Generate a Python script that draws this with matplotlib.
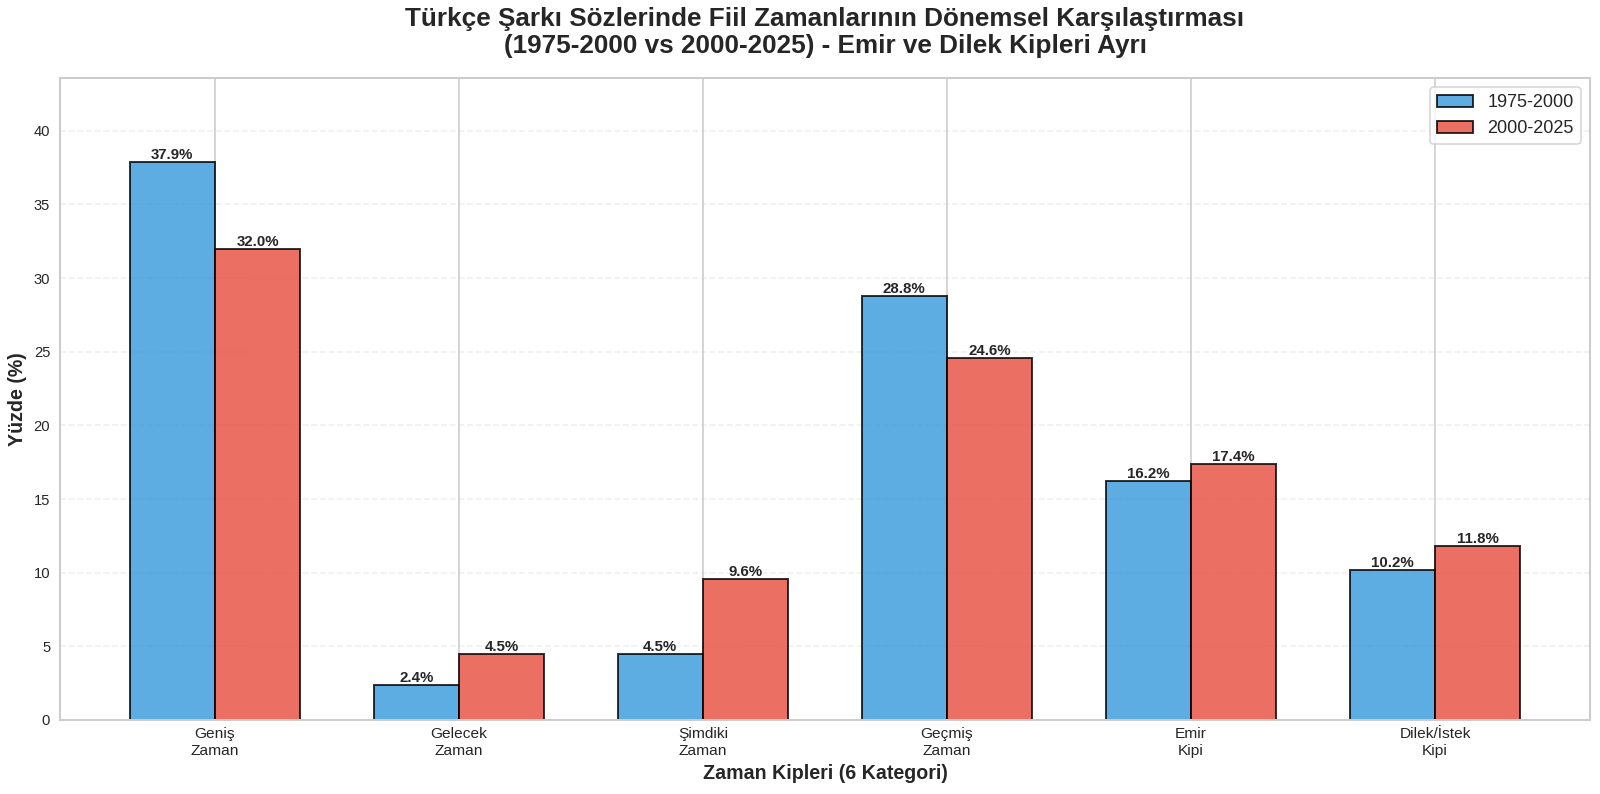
import matplotlib
matplotlib.use("Agg")
import matplotlib.pyplot as plt
import numpy as np
import seaborn as sns

sns.set_theme(style="whitegrid")
plt.rcParams['font.family'] = ['Liberation Sans', 'DejaVu Sans']

categories = ["Geniş\nZaman", "Gelecek\nZaman", "Şimdiki\nZaman", "Geçmiş\nZaman", "Emir\nKipi", "Dilek/İstek\nKipi"]
period1 = [37.9, 2.4, 4.5, 28.8, 16.2, 10.2]
period2 = [32.0, 4.5, 9.6, 24.6, 17.4, 11.8]
labels = ["1975-2000", "2000-2025"]

x = np.arange(len(categories))
width = 0.35

DPI = 1600 / 13.6
fig, ax = plt.subplots(figsize=(13.6, 794 / DPI), dpi=DPI)
bars1 = ax.bar(x - width / 2, period1, width, label=labels[0], color="#3498db",
               alpha=0.8, edgecolor="black", linewidth=1.2)
bars2 = ax.bar(x + width / 2, period2, width, label=labels[1], color="#e74c3c",
               alpha=0.8, edgecolor="black", linewidth=1.2)

for bars in (bars1, bars2):
    for b in bars:
        h = b.get_height()
        ax.text(b.get_x() + b.get_width() / 2, h, f"{h:.1f}%", ha="center", va="bottom",
                fontsize=9.2, fontweight="bold")

ax.set_xlabel("Zaman Kipleri (6 Kategori)", fontsize=12, fontweight="bold")
ax.set_ylabel("Yüzde (%)", fontsize=12, fontweight="bold")
ax.set_title("Türkçe Şarkı Sözlerinde Fiil Zamanlarının Dönemsel Karşılaştırması\n"
             "(1975-2000 vs 2000-2025) - Emir ve Dilek Kipleri Ayrı",
             fontsize=16, fontweight="bold", pad=15)
ax.set_xticks(x)
ax.set_xticklabels(categories, fontsize=9.5)
ax.tick_params(axis="both", length=0)
ax.tick_params(axis="y", labelsize=9, pad=6)
ax.tick_params(axis="x", pad=4.5)
ax.legend(fontsize=11)
ax.grid(axis="y", linestyle="--", alpha=0.3)
ax.set_ylim(0, max(max(period1), max(period2)) * 1.15)

fig.subplots_adjust(left=0.0375, right=0.99375, bottom=0.0932, top=0.9018)
plt.savefig("out.png", dpi=DPI)
